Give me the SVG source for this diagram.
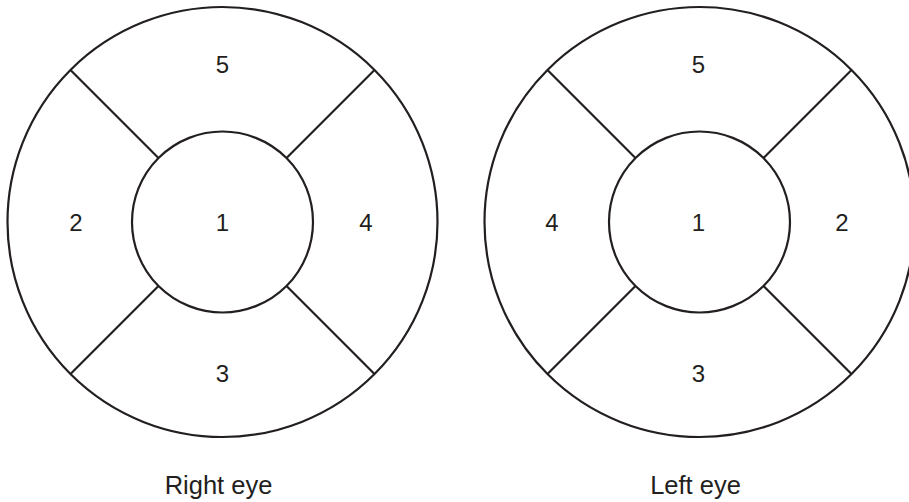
<svg xmlns="http://www.w3.org/2000/svg" width="909" height="502" viewBox="0 0 909 502">
<style>
.c{fill:none;stroke:#231f20;stroke-width:2.2}
.l{stroke:#231f20;stroke-width:2.2}
.t{font-family:"Liberation Sans",Arial,sans-serif;font-size:24px;fill:#231f20;text-anchor:middle}
.lab{font-family:"Liberation Sans",Arial,sans-serif;font-size:25.5px;fill:#231f20;text-anchor:middle}
</style>
<rect width="909" height="502" fill="#fff"/>
<g id="connectors">
<line class="l" x1="70.5" y1="70" x2="158.2" y2="157.7"/>
<line class="l" x1="374.5" y1="70" x2="286.8" y2="157.7"/>
<line class="l" x1="70.5" y1="374" x2="158.2" y2="286.3"/>
<line class="l" x1="374.5" y1="374" x2="286.8" y2="286.3"/>
<line class="l" x1="547.5" y1="70" x2="635.2" y2="157.7"/>
<line class="l" x1="851.5" y1="70" x2="763.8" y2="157.7"/>
<line class="l" x1="547.5" y1="374" x2="635.2" y2="286.3"/>
<line class="l" x1="851.5" y1="374" x2="763.8" y2="286.3"/>
</g>
<g id="right-eye">
<circle class="c" cx="222.5" cy="222" r="215"/>
<circle class="c" cx="222.5" cy="222" r="90.5"/>
<text class="t" x="222.5" y="73">5</text>
<text class="t" x="76" y="231">2</text>
<text class="t" x="222.5" y="231">1</text>
<text class="t" x="366" y="231">4</text>
<text class="t" x="222.5" y="382">3</text>
<text class="lab" x="218.5" y="494">Right eye</text>
</g>
<g id="left-eye">
<circle class="c" cx="699.5" cy="222" r="215"/>
<circle class="c" cx="699.5" cy="222" r="90.5"/>
<text class="t" x="698.5" y="73">5</text>
<text class="t" x="552" y="231">4</text>
<text class="t" x="698.5" y="231">1</text>
<text class="t" x="842" y="231">2</text>
<text class="t" x="698.5" y="382">3</text>
<text class="lab" x="695.5" y="494">Left eye</text>
</g>
</svg>
